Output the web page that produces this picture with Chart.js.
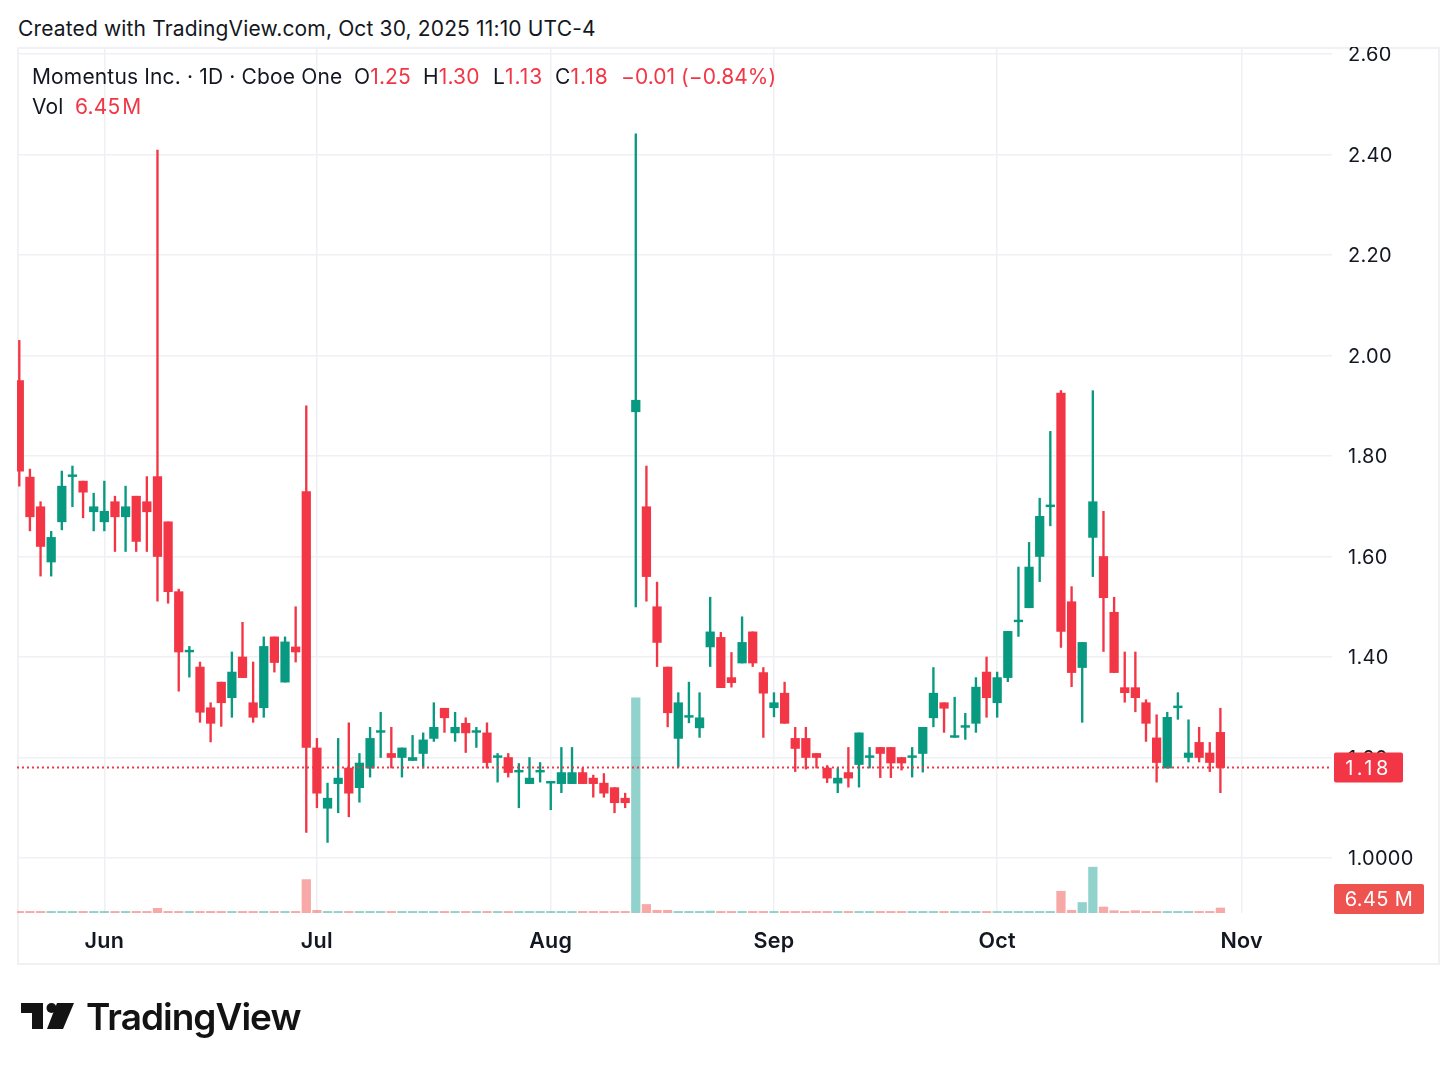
<!DOCTYPE html>
<html><head><meta charset="utf-8">
<script src="https://cdn.jsdelivr.net/npm/chart.js@4"></script>
<style>
html,body{margin:0;padding:0;background:#fff;width:1456px;height:1070px;overflow:hidden;font-family:Inter,sans-serif;color:#131722}
canvas{position:absolute;left:0;top:0}
.abs{position:absolute;white-space:nowrap;line-height:24px;font-size:21px;letter-spacing:.15px}
.r{color:#f23645}
#strip{position:absolute;left:0;top:0;width:1456px;height:47px;background:#fff}
#frame{position:absolute;left:17px;top:47px;width:1419px;height:914px;border:2px solid #f0f1f4}
</style></head><body>
<div id="frame"></div>
<canvas id="c" width="1456" height="1070"></canvas>
<div id="strip"></div>
<div class="abs" style="left:18px;top:17px">Created with TradingView.com, Oct 30, 2025 11:10 UTC-4</div>
<div class="abs" style="left:32px;top:65px">Momentus Inc. · 1D · Cboe One</div>
<div class="abs" style="left:354px;top:65px">O<span class="r">1.25</span></div>
<div class="abs" style="left:423px;top:65px">H<span class="r">1.30</span></div>
<div class="abs" style="left:493px;top:65px">L<span class="r" style="letter-spacing:1px">1.13</span></div>
<div class="abs" style="left:555px;top:65px">C<span class="r" style="letter-spacing:1px">1.18</span></div>
<div class="abs r" style="left:621px;top:65px;letter-spacing:.05px">−0.01 (−0.84%)</div>
<div class="abs" style="left:32px;top:95px">Vol</div>
<div class="abs r" style="left:75px;top:95px;word-spacing:-4px">6.45 M</div>
<svg style="position:absolute;left:0;top:990px" width="80" height="50" viewBox="0 990 80 50"><path fill="#131313" d="M21 1003H43V1029H32V1013H21Z"/><circle fill="#131313" cx="51.5" cy="1008" r="5"/><path fill="#131313" d="M57 1003H74L63 1029H47Z"/></svg>
<div class="abs" style="left:86px;top:994px;font-size:37px;line-height:46px;font-weight:600;letter-spacing:-1px;color:#131313">TradingView</div>
<script>
const opens=[1.95,1.758,1.699,1.589,1.669,1.759,1.75,1.689,1.669,1.709,1.679,1.72,1.709,1.759,1.669,1.53,1.41,1.38,1.299,1.35,1.319,1.4,1.309,1.299,1.44,1.35,1.42,1.729,1.219,1.099,1.148,1.179,1.14,1.179,1.25,1.208,1.2,1.194,1.208,1.238,1.298,1.249,1.268,1.25,1.249,1.2,1.2,1.171,1.148,1.171,1.149,1.148,1.148,1.17,1.159,1.149,1.14,1.119,1.888,1.699,1.5,1.38,1.238,1.28,1.259,1.42,1.439,1.359,1.388,1.45,1.369,1.299,1.328,1.238,1.238,1.208,1.179,1.149,1.17,1.186,1.2,1.22,1.22,1.2,1.2,1.208,1.279,1.309,1.24,1.26,1.268,1.37,1.309,1.359,1.47,1.498,1.6,1.699,1.925,1.51,1.379,1.638,1.6,1.489,1.339,1.339,1.309,1.239,1.179,1.299,1.2,1.23,1.209,1.25];
const highs=[2.03,1.774,1.709,1.65,1.77,1.78,1.75,1.726,1.75,1.72,1.74,1.72,1.759,2.409,1.669,1.535,1.421,1.39,1.309,1.35,1.41,1.469,1.39,1.44,1.44,1.44,1.5,1.9,1.238,1.149,1.238,1.269,1.208,1.26,1.29,1.26,1.219,1.244,1.249,1.309,1.298,1.29,1.279,1.26,1.269,1.208,1.208,1.188,1.2,1.19,1.15,1.22,1.22,1.179,1.165,1.168,1.14,1.129,2.441,1.78,1.549,1.38,1.329,1.35,1.329,1.519,1.449,1.409,1.48,1.45,1.379,1.329,1.35,1.26,1.26,1.208,1.184,1.179,1.22,1.249,1.22,1.22,1.22,1.2,1.22,1.26,1.379,1.309,1.32,1.288,1.359,1.4,1.37,1.451,1.579,1.628,1.716,1.849,1.93,1.54,1.429,1.93,1.69,1.519,1.41,1.41,1.315,1.285,1.29,1.329,1.275,1.26,1.23,1.298];
const lows=[1.74,1.651,1.561,1.561,1.653,1.699,1.677,1.651,1.651,1.61,1.61,1.61,1.61,1.511,1.507,1.332,1.36,1.27,1.231,1.262,1.28,1.359,1.27,1.28,1.37,1.35,1.39,1.051,1.1,1.031,1.09,1.082,1.111,1.161,1.2,1.179,1.161,1.194,1.179,1.232,1.25,1.232,1.21,1.22,1.179,1.151,1.161,1.1,1.148,1.151,1.096,1.13,1.148,1.148,1.121,1.121,1.09,1.1,1.4995,1.511,1.381,1.261,1.181,1.269,1.24,1.381,1.339,1.34,1.388,1.381,1.24,1.281,1.268,1.172,1.177,1.179,1.15,1.13,1.141,1.141,1.179,1.16,1.16,1.175,1.161,1.171,1.261,1.25,1.24,1.236,1.25,1.28,1.28,1.351,1.441,1.498,1.55,1.661,1.419,1.341,1.27,1.56,1.411,1.369,1.31,1.291,1.232,1.151,1.179,1.276,1.191,1.191,1.172,1.13];
const closes=[1.77,1.679,1.62,1.638,1.74,1.76,1.728,1.699,1.69,1.679,1.699,1.63,1.689,1.6,1.53,1.41,1.411,1.29,1.268,1.309,1.37,1.359,1.28,1.421,1.389,1.43,1.41,1.22,1.129,1.119,1.159,1.129,1.189,1.238,1.251,1.2,1.219,1.2,1.235,1.26,1.279,1.26,1.249,1.251,1.19,1.201,1.17,1.172,1.159,1.172,1.15,1.17,1.17,1.148,1.148,1.129,1.11,1.11,1.911,1.56,1.429,1.289,1.309,1.281,1.279,1.45,1.339,1.349,1.429,1.388,1.328,1.309,1.268,1.218,1.2,1.2,1.159,1.159,1.159,1.249,1.201,1.208,1.189,1.189,1.201,1.26,1.328,1.298,1.241,1.261,1.34,1.319,1.359,1.451,1.471,1.579,1.68,1.7,1.451,1.369,1.429,1.709,1.518,1.369,1.329,1.319,1.268,1.19,1.28,1.3,1.209,1.2,1.19,1.18];
const volumes=[1.2,1.2,1.2,1.2,1.2,1.2,1.2,1.2,1.2,1.2,1.2,1.2,1.2,6,1.2,1.2,1.2,1.2,1.2,1.2,1.2,1.2,1.2,1.2,1.2,1.2,1.2,43,3.4,1.2,1.2,1.2,1.2,1.2,1.2,1.2,1.2,1.2,1.2,1.2,1.2,1.2,1.2,1.2,1.2,1.2,1.2,1.2,1.2,1.2,1.2,1.2,1.2,1.2,1.2,1.2,1.2,1.2,277,11,3.5,3.5,1.2,1.2,1.2,2.5,1.2,1.2,1.2,1.2,1.2,1.2,1.2,1.2,1.2,1.2,1.2,1.2,1.2,1.2,1.2,1.2,1.2,1.2,1.2,1.2,1.2,1.2,1.2,1.2,1.2,1.2,1.2,1.2,1.2,1.2,1.2,1.2,28,3.5,13.5,59,7.7,3,2,3,1.6,1.2,1.2,1.2,1.2,1.2,1.2,6.45];
const priceTicks=[1.0,1.2,1.4,1.6,1.8,2.0,2.2,2.4,2.6];
const priceTickLabels=["1.0000","1.20","1.40","1.60","1.80","2.00","2.20","2.40","2.60"];
const monthTicks=[8,28,50,71,92,115];
const monthLabels=["Jun","Jul","Aug","Sep","Oct","Nov"];
const lastPrice=1.18, lastPriceLabel="1.18", lastVolumeLabel="6.45 M";

const UP="#089981",DOWN="#f23645",UPV="rgba(38,166,154,.5)",DOWNV="rgba(239,83,80,.5)";
const isUp=opens.map((o,i)=>closes[i]>=o);
const candleColors=isUp.map(u=>u?UP:DOWN);
const xMin=-0.216,xMax=123.5;

const tags={id:"tags",
 beforeDraw(ch){ch.ctx.letterSpacing="0.3px";},
 afterDatasetsDraw(ch){
  const g=ch.ctx,y=ch.scales.y;
  const rr=(x,t,w,h,col,txt,sp)=>{g.save();g.fillStyle=col;g.beginPath();g.roundRect(x,t,w,h,2);g.fill();
    g.fillStyle="#fff";g.font="20px Inter";g.letterSpacing=sp;g.textAlign="center";g.textBaseline="middle";g.fillText(txt,x+w/2,t+h/2+1);g.restore();};
  rr(1334,y.getPixelForValue(lastPrice)-15,69,30,"#f23645",lastPriceLabel,"3.5px");
  rr(1334,884,90,30,"#ef5350",lastVolumeLabel,"0.4px");
}};

new Chart(document.getElementById("c"),{
  type:"bar",
  data:{datasets:[
    {type:"line",label:"Last",data:[{x:xMin,y:lastPrice},{x:xMax,y:lastPrice}],borderColor:DOWN,borderWidth:2,borderDash:[2,3],pointRadius:0,yAxisID:"y",order:0},
    {label:"Body",data:opens.map((o,i)=>({x:i,y:[Math.min(o,closes[i]),Math.max(o,closes[i])]})),backgroundColor:candleColors,barThickness:8.6,minBarLength:1.8,grouped:false,yAxisID:"y",order:1},
    {label:"Wick",data:highs.map((h,i)=>({x:i,y:[lows[i],h]})),backgroundColor:candleColors,barThickness:1.7,grouped:false,yAxisID:"y",order:2},
    {label:"Volume",data:volumes.map((v,i)=>({x:i,y:v})),backgroundColor:isUp.map(u=>u?UPV:DOWNV),barThickness:8.6,minBarLength:1.6,grouped:false,yAxisID:"yv",order:3}
  ]},
  plugins:[tags],
  options:{
    responsive:false,animation:false,events:[],
    layout:{padding:{left:17,top:47,right:17,bottom:106}},
    plugins:{legend:{display:false},tooltip:{enabled:false},title:{display:false}},
    scales:{
      x:{type:"linear",position:"bottom",offset:false,min:xMin,max:xMax,
        grid:{offset:false,color:"#eff0f3",lineWidth:1.5,drawTicks:false},border:{display:false},
        afterBuildTicks(s){s.ticks=monthTicks.map(v=>({value:v}));},
        afterFit(s){s.height=51;},
        ticks:{autoSkip:false,maxRotation:0,padding:16,color:"#131722",font:{family:"Inter",size:21.5,weight:"600"},callback:(v,i)=>monthLabels[i]}},
      y:{type:"linear",position:"right",min:1-55/502.5,max:1+811/502.5,
        grid:{color:"#eff0f3",lineWidth:1.5,drawTicks:false},border:{display:false},
        afterBuildTicks(s){s.ticks=priceTicks.map(v=>({value:v}));},
        afterFit(s){s.width=107;},
        ticks:{autoSkip:false,padding:16,labelOffset:1,color:"#131722",font:{family:"Inter",size:20},callback:(v,i)=>priceTickLabels[i]}},
      yv:{type:"linear",display:false,min:0,max:1115}
    }
  }
});
</script>
</body></html>
